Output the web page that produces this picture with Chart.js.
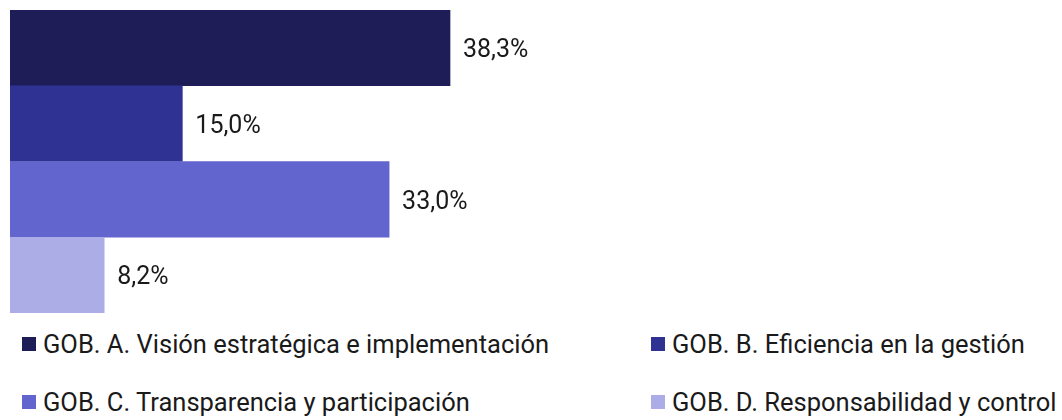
<!DOCTYPE html>
<html>
<head>
<meta charset="utf-8">
<script src="https://cdn.jsdelivr.net/npm/chart.js@4.4.1/dist/chart.umd.min.js"></script>
<style>
  html, body { margin: 0; padding: 0; background: #fff; }
  body { width: 1062px; height: 420px; overflow: hidden; font-family: Roboto, sans-serif; }
  #wrap { position: relative; width: 1062px; height: 320px; }
  #legend { display: grid; grid-template-columns: 629px 411px; padding-left: 22px; margin-top: -5px; }
  .item { display: flex; align-items: center; height: 58px; font-size: 25.5px; color: #1a1a1a; white-space: nowrap; }
  .box { width: 14px; height: 14px; margin-right: 7px; flex: none; }
</style>
</head>
<body>
<div id="wrap"><canvas id="govChart"></canvas></div>
<div id="legend"></div>
<script>
const categories = [
    'GOB. A. Visión estratégica e implementación',
    'GOB. B. Eficiencia en la gestión',
    'GOB. C. Transparencia y participación',
    'GOB. D. Responsabilidad y control'
];
const shares = [38.3, 15.0, 33.0, 8.2];
const barColors = ['#1e1d57', '#2f3293', '#6365cf', '#acade6'];

// value labels to the right of each bar, e.g. "38,3%"
const valueLabels = {
    id: 'valueLabels',
    afterDatasetsDraw(chart) {
        const ctx = chart.ctx;
        const meta = chart.getDatasetMeta(0);
        ctx.save();
        ctx.font = '25px Roboto';
        ctx.fillStyle = '#1a1a1a';
        ctx.textBaseline = 'middle';
        meta.data.forEach((bar, i) => {
            const txt = shares[i].toFixed(1).replace('.', ',') + '%';
            ctx.fillText(txt, bar.x + 13, bar.y + 3);
        });
        ctx.restore();
    }
};

const ctx = document.getElementById('govChart').getContext('2d');
new Chart(ctx, {
    type: 'bar',
    data: {
        labels: categories,
        datasets: [{
            data: shares,
            backgroundColor: barColors,
            borderWidth: 0,
            categoryPercentage: 1,
            barPercentage: 1
        }]
    },
    options: {
        indexAxis: 'y',
        responsive: true,
        maintainAspectRatio: false,
        animation: false,
        layout: { padding: { left: 10, right: 10, top: 10, bottom: 7 } },
        scales: {
            x: { display: false, min: 0, max: 90.7 },
            y: { display: false }
        },
        plugins: {
            legend: { display: false },
            tooltip: { enabled: false }
        }
    },
    plugins: [valueLabels]
});

// legend laid out as a two column grid, like the original
const legendEl = document.getElementById('legend');
categories.forEach((name, i) => {
    const item = document.createElement('div');
    item.className = 'item';
    item.innerHTML = '<span class="box" style="background:' + barColors[i] + '"></span><span></span>';
    item.lastChild.textContent = name;
    legendEl.appendChild(item);
});
</script>
</body>
</html>
